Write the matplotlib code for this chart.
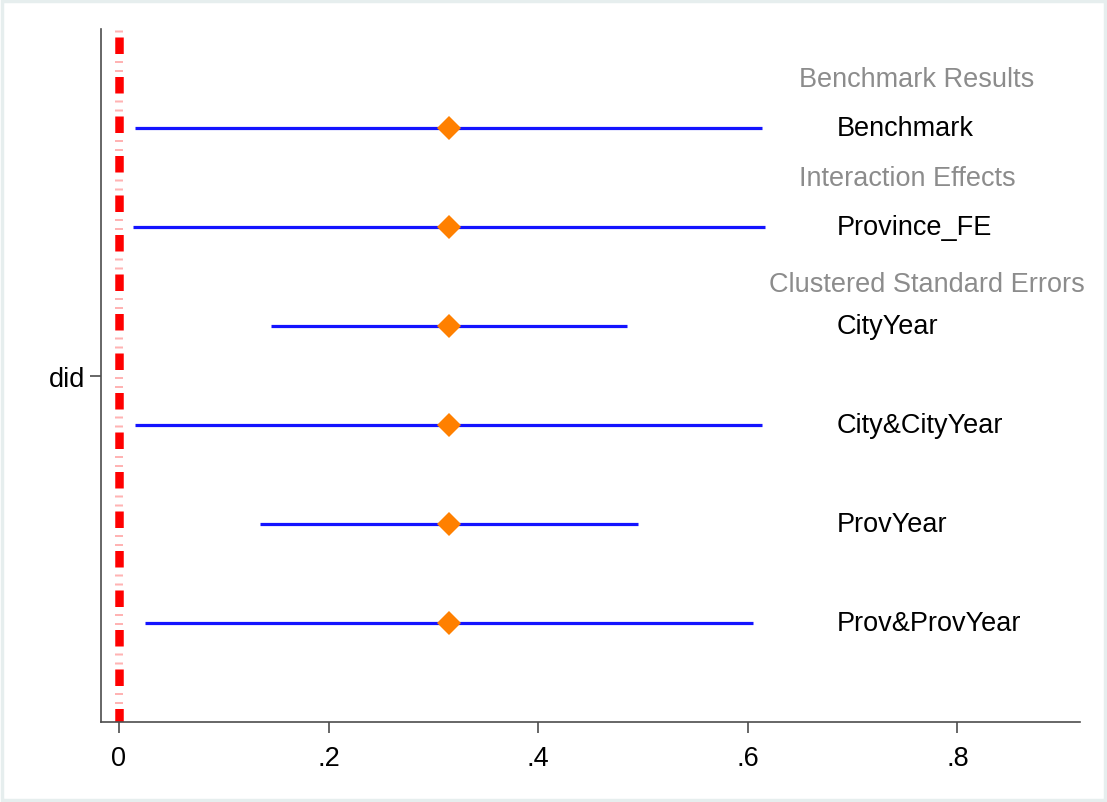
import matplotlib
matplotlib.use("Agg")
import matplotlib.pyplot as plt
from matplotlib.patches import Rectangle

plt.rcParams['font.family'] = ['Liberation Sans', 'DejaVu Sans']
plt.rcParams['lines.scale_dashes'] = False

# estimates for the did coefficient under each specification
labels = ['Benchmark', 'Province_FE', 'CityYear', 'City&CityYear', 'ProvYear', 'Prov&ProvYear']
coef = [0.315, 0.315, 0.315, 0.315, 0.315, 0.315]
ci_lo = [0.015, 0.013, 0.145, 0.015, 0.135, 0.025]
ci_hi = [0.614, 0.616, 0.485, 0.614, 0.495, 0.605]

# group headers (text, row position)
headers = ['Benchmark Results', 'Interaction Effects', 'Clustered Standard Errors']
header_pos = [0.5, 1.5, 2.58]
header_x = [0.649, 0.649, 0.620]

xticks = [0, 0.2, 0.4, 0.6, 0.8]
xticklabels = ['0', '.2', '.4', '.6', '.8']

fig = plt.figure(figsize=(11.07, 8.03), dpi=100)
ax = fig.add_axes([0.0912, 0.0996, 0.8844, 0.863])

rows = list(range(1, len(labels) + 1))

# zero reference line: thick red dashes with faint pink ticks between
px = 0.72
ax.plot([0, 0], [0, 7], color='#ff0000', lw=8.5 * px, solid_capstyle='butt',
        linestyle=(31.5 * px, (16.5 * px, 23 * px)), zorder=2)
ax.plot([0, 0], [0, 7], color='#ffb3b3', lw=8 * px,
        linestyle=(7.5 * px, (2 * px, 7 * px, 2 * px, 28.5 * px)), zorder=2)

for r, c, lo, hi in zip(rows, coef, ci_lo, ci_hi):
    ax.plot([lo, hi], [r, r], color='#1414ff', lw=2.3, solid_capstyle='butt', zorder=3)
ax.plot(coef, rows, linestyle='none', marker='D', ms=12, color='#ff8000',
        markeredgewidth=0, zorder=4)

for r, lab in zip(rows, labels):
    ax.text(0.685, r, lab, fontsize=19.5, color='black', va='center', ha='left')
for hx, hy, h in zip(header_x, header_pos, headers):
    ax.text(hx, hy, h, fontsize=19.5, color='#8c8c8c', va='center', ha='left')

ax.set_xlim(-0.0172, 0.917)
ax.set_ylim(7, 0)
ax.set_xticks(xticks)
ax.set_xticklabels(xticklabels)
ax.set_yticks([3.5])
ax.set_yticklabels(['did'])

for s in ['top', 'right']:
    ax.spines[s].set_visible(False)
for s in ['left', 'bottom']:
    ax.spines[s].set_color('#4d4d4d')
    ax.spines[s].set_linewidth(1.2)
ax.tick_params(axis='both', length=8, width=1.2, color='#4d4d4d', labelsize=19.5)
ax.tick_params(axis='x', pad=8.5)
ax.tick_params(axis='y', pad=3.5)

# thin frame around the whole figure
fig.patches.append(Rectangle((0.002, 0.002), 0.996, 0.996, transform=fig.transFigure,
                             fill=False, edgecolor='#e6eeee', lw=2.5))

fig.savefig('out.png', dpi=100)
